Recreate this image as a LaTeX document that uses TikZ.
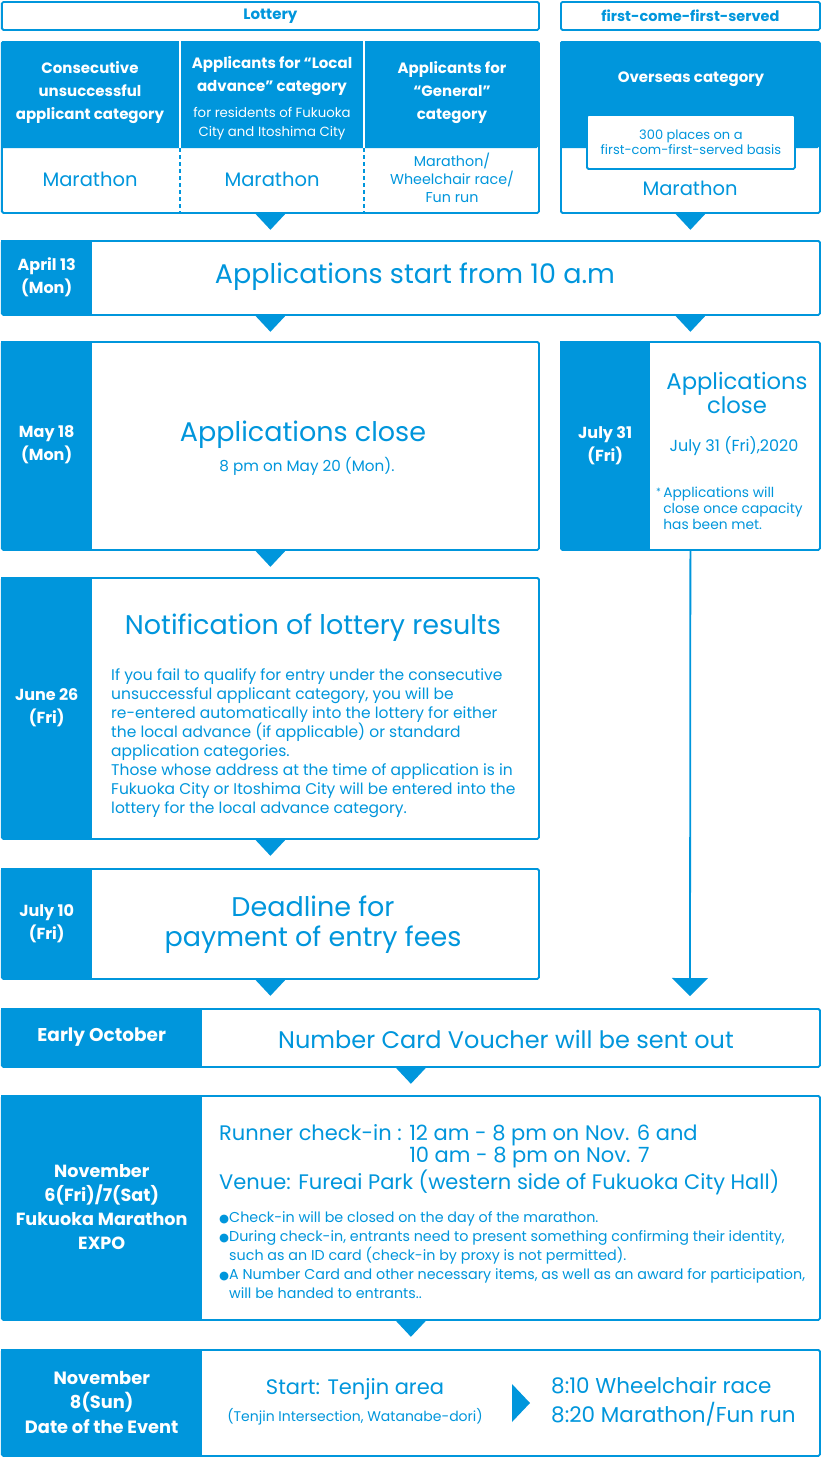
\documentclass[tikz,border=0pt]{standalone}
\usepackage{fontspec}
\setmainfont{Poppins}
\newfontfamily\symfont{DejaVu Sans}
\usetikzlibrary{positioning}
\usetikzlibrary{arrows.meta}
\definecolor{fmblue}{RGB}{0,150,220}
\newcommand{\fsz}[2]{\fontsize{#1}{#2}\selectfont}
\newcommand{\dotmark}{{\symfont\fsz{11.5}{11.5}●}}
\newcommand{\steptri}[1]{\fill[fmblue] #1 ++(-15,0) -- ++(30,0) -- ++(-15,16) -- cycle;}

\begin{document}
\begin{tikzpicture}[x=1pt, y=-1pt,
  box/.style={draw=fmblue, line width=1.8pt, fill=white, rounded corners=1.5pt, inner sep=0pt, anchor=north west},
  hdbox/.style={box, text=fmblue, font=\bfseries\fsz{15}{17}},
  panel/.style={fill=fmblue, inner sep=0pt, anchor=north west, text=white, align=center, font=\bfseries\fsz{16}{23}},
  cathead/.style={text=white, align=center, inner sep=0pt, font=\bfseries\fsz{15}{23}},
  title/.style={text=fmblue, align=center, inner sep=0pt, font=\fsz{27}{30}},
  note/.style={text=fmblue, align=center, inner sep=0pt, font=\fsz{15}{18}},
  para/.style={text=fmblue, align=left, inner sep=0pt, font=\fsz{15.5}{19}},
]
\fill[white] (0,0) rectangle (820,1457);
\useasboundingbox (0,0) rectangle (820,1457);

% headers
\node[hdbox, minimum width=537, minimum height=28] (lothd) at (1,1) {Lottery};
\node[hdbox, font=\bfseries\fsz{14.5}{17}, minimum width=259, minimum height=28] (fcfshd) at (560,1) {first-come-first-served};

% categories
\node[box, minimum width=537, minimum height=171] (lot) at (1,41) {};
\fill[fmblue, rounded corners=1.5pt] (1,41) rectangle (538,148);
\draw[white, line width=1.6pt] (180,41) -- (180,148) (364,41) -- (364,148);
\draw[fmblue, line width=1.6pt, dash pattern=on 4pt off 3pt] (180,148) -- (180,212) (364,148) -- (364,212);
\node[cathead] (cat1) at (90,93) {Consecutive\\unsuccessful\\applicant category};
\node[cathead] (cat2) at (272,76) {Applicants for “Local\\advance” category};
\node[cathead, font=\fsz{13.3}{19}] (cat2b) at (272,124) {for residents of Fukuoka\\City and Itoshima City};
\node[cathead] (cat3) at (452,93) {Applicants for\\“General”\\category};
\node[title, font=\fsz{19.5}{22}] (mar1) at (90,179) {Marathon};
\node[title, font=\fsz{19.5}{22}] (mar2) at (272,179) {Marathon};
\node[note, font=\fsz{14.3}{18}] (mar3) at (452,178) {Marathon/\\Wheelchair race/\\Fun run};

\node[box, minimum width=259, minimum height=171] (ovs) at (560,41) {};
\fill[fmblue, rounded corners=1.5pt] (560,41) rectangle (819,148);
\node[cathead] (ovshd) at (691,79) {Overseas category};
\node[box, minimum width=208, minimum height=54, text=fmblue, align=center, font=\fsz{13}{15}] (ovsnote) at (586,114) {300 places on a\\first-com-first-served basis};
\node[title, font=\fsz{19.5}{22}] (mar4) at (690,188) {Marathon};
\steptri{(lot.south)}
\steptri{(ovs.south)}

% April 13
\node[box, minimum width=818, minimum height=74] (apr) at (1,240) {};
\node[panel, minimum width=91, minimum height=74] (aprd) at (apr.north west) {April 13\\(Mon)};
\node[title] (aprt) at (415,277) {Applications start from 10 a.m};
\steptri{(lot.south |- apr.south)}
\steptri{(ovs.south |- apr.south)}

% May 18
\node[box, minimum width=537, minimum height=208] (may) at (1,341) {};
\node[panel, minimum width=91, minimum height=208] (mayd) at (may.north west) {May 18\\(Mon)};
\node[title] (mayt) at (303,435) {Applications close};
\node[note, font=\fsz{15.2}{18}] (mayn) at (307,466) {8 pm on May 20 (Mon).};
\steptri{(may.south)}

% July 31
\node[box, minimum width=259, minimum height=208] (jul31) at (560,341) {};
\node[panel, minimum width=90, minimum height=208] (jul31d) at (jul31.north west) {July 31\\(Fri)};
\node[title, font=\fsz{22.7}{24}] (jul31t) at (737,393) {Applications\\close};
\node[note, font=\fsz{16}{18}] (jul31n) at (734,446) {July 31 (Fri),2020};
\node[para, font=\fsz{13.8}{16}, anchor=north west] (jul31m) at (656,487) {\raisebox{2pt}{\fsz{10}{10}*}\,Applications will\\\hphantom{\fsz{10}{10}*}\,close once capacity\\\hphantom{\fsz{10}{10}*}\,has been met.};
\coordinate (arrend) at (690,996);
\draw[fmblue, line width=1.8pt, -{Triangle[width=36pt,length=18pt]}] (jul31.south) -- (arrend);

% June 26
\node[box, minimum width=537, minimum height=261] (jun) at (1,577) {};
\node[panel, minimum width=91, minimum height=261] (jund) at (jun.north west) {June 26\\(Fri)};
\node[title] (junt) at (313,628) {Notification of lottery results};
\node[para, anchor=north west] (junp) at (111,668) {If you fail to qualify for entry under the consecutive\\unsuccessful applicant category, you will be\\re-entered automatically into the lottery for either\\the local advance (if applicable) or standard\\application categories.\\Those whose address at the time of application is in\\Fukuoka City or Itoshima City will be entered into the\\lottery for the local advance category.};
\steptri{(jun.south)}

% July 10
\node[box, minimum width=537, minimum height=110] (jul10) at (1,868) {};
\node[panel, minimum width=91, minimum height=110] (jul10d) at (jul10.north west) {July 10\\(Fri)};
\node[title] (jul10t) at (313,925) {Deadline for\\payment of entry fees};
\steptri{(jul10.south)}

% Early October
\node[box, minimum width=818, minimum height=58] (oct) at (1,1008) {};
\node[panel, minimum width=201, minimum height=58, font=\bfseries\fsz{18.5}{20}] (octd) at (oct.north west) {Early October};
\node[title, font=\fsz{24}{26}] (octt) at (506,1039) {Number Card Voucher will be sent out};
\steptri{(oct.south)}

% EXPO
\node[box, minimum width=818, minimum height=224] (expo) at (1,1095) {};
\node[panel, minimum width=201, minimum height=224, font=\bfseries\fsz{17.6}{24}] (expod) at (expo.north west) {November\\6(Fri)/7(Sat)\\Fukuoka Marathon\\EXPO};
\node[para, font=\fsz{21}{22}, anchor=north west] (expot) at (219,1124) {Runner check-in : 12 am - 8 pm on Nov. 6 and\\\phantom{Runner check-in : }10 am - 8 pm on Nov. 7};
\node[para, font=\fsz{21}{22}, anchor=north west] (expov) at (219,1170) {Venue: Fureai Park (western side of Fukuoka City Hall)};
\node[para, font=\fsz{14.3}{19}, anchor=north west] (expob) at (219,1211) {\dotmark Check-in will be closed on the day of the marathon.\\\dotmark During check-in, entrants need to present something confirming their identity,\\\phantom{\dotmark}such as an ID card (check-in by proxy is not permitted).\\\dotmark A Number Card and other necessary items, as well as an award for participation,\\\phantom{\dotmark}will be handed to entrants..};
\steptri{(expo.south)}

% Event day
\node[box, minimum width=818, minimum height=106] (event) at (1,1349) {};
\node[panel, minimum width=201, minimum height=106, font=\bfseries\fsz{17.8}{24.5}] (eventd) at (event.north west) {November\\8(Sun)\\Date of the Event};
\node[title, font=\fsz{21}{22}] (start) at (355,1389) {Start: Tenjin area};
\node[note, font=\fsz{14}{15}] (startn) at (355,1417) {(Tenjin Intersection, Watanabe-dori)};
\fill[fmblue] (512,1384) -- (530,1403) -- (512,1422) -- cycle;
\node[para, font=\fsz{21.5}{29}, anchor=north west] (race) at (551,1377) {8:10 Wheelchair race\\8:20 Marathon/Fun run};
\end{tikzpicture}
\end{document}
